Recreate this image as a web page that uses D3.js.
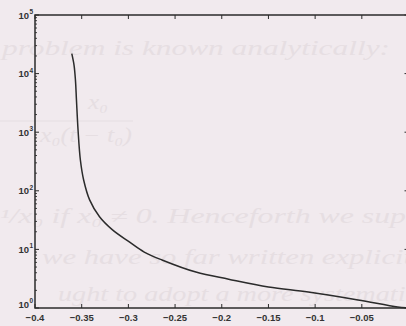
<!DOCTYPE html>
<html>
<head>
<meta charset="utf-8">
<script src="https://cdn.jsdelivr.net/npm/d3@7/dist/d3.min.js"></script>
<style>
  html, body { margin: 0; padding: 0; background: #f1eaee; }
  svg { display: block; }
</style>
</head>
<body>
<script>
// Solution x(t) of the blow-up problem, plotted on a log scale
const tValues = [-0.3606, -0.3582, -0.3567, -0.3556, -0.3539, -0.3514, -0.3479,
                 -0.3415, -0.3309, -0.317, -0.299, -0.283, -0.264, -0.2277, -0.1926,
                 -0.15, -0.1074, -0.054, -0.0117, 0];
const xValues = [21900, 14000, 7800, 3550, 1090, 335, 153,
                 70, 36, 21.5, 13.4, 9.0, 6.6, 4.1, 3.1,
                 2.28, 1.87, 1.37, 1.04, 1.0];
const xTicks = [-0.4, -0.35, -0.3, -0.25, -0.2, -0.15, -0.1, -0.05, 0];
const xTickLabels = ["\u22120.4", "\u22120.35", "\u22120.3", "\u22120.25", "\u22120.2",
                     "\u22120.15", "\u22120.1", "\u22120.05", "0"];
const yExponents = [0, 1, 2, 3, 4, 5];

// faint text printed on the page behind the figure
const pageLines = [
  {text: "problem is known analytically:", x: 2, y: 55, len: 388},
  {text: "x\u2080", x: 88, y: 109, len: 20},
  {text: "x\u2080(t \u2212 t\u2080)", x: 40, y: 142, len: 92},
  {text: "\u00B9/x\u2080 if x\u2080 \u2260 0.  Henceforth we sup", x: 0, y: 223, len: 406},
  {text: "we have so far written explicit", x: 42, y: 264, len: 370},
  {text: "ught to adopt a more systematic", x: 58, y: 301, len: 360}
];

const W = 406, H = 326;
const mLeft = 35, mRight = 408.5, mTop = 15, mBottom = 308;

const svg = d3.select("body").append("svg").attr("width", W).attr("height", H);
svg.append("rect").attr("width", W).attr("height", H).attr("fill", "#f1eaee");

const page = svg.append("g").attr("font-family", "Liberation Serif, DejaVu Serif, serif")
  .attr("font-style", "italic").attr("font-size", 20).attr("fill", "#e6dee2");
page.selectAll("text").data(pageLines).join("text")
  .attr("x", d => d.x).attr("y", d => d.y)
  .attr("textLength", d => d.len).attr("lengthAdjust", "spacingAndGlyphs")
  .text(d => d.text);
page.append("line").attr("x1", 0).attr("x2", 133).attr("y1", 121).attr("y2", 121)
  .attr("stroke", "#e6dee2").attr("stroke-width", 1.2);

const x = d3.scaleLinear().domain([-0.4, 0]).range([mLeft, mRight]);
const y = d3.scaleLog().domain([1, 1e5]).range([mBottom, mTop]);

const ink = "#2b2b2b";
const g = svg.append("g");

// frame
g.append("rect").attr("x", mLeft).attr("y", mTop)
  .attr("width", mRight - mLeft).attr("height", mBottom - mTop)
  .attr("fill", "none").attr("stroke", ink).attr("stroke-width", 1.5);

// x ticks, bottom and top, pointing inward
xTicks.forEach(v => {
  const px = x(v);
  g.append("line").attr("x1", px).attr("x2", px).attr("y1", mBottom).attr("y2", mBottom - 4)
    .attr("stroke", ink).attr("stroke-width", 1);
  g.append("line").attr("x1", px).attr("x2", px).attr("y1", mTop).attr("y2", mTop + 4)
    .attr("stroke", ink).attr("stroke-width", 1);
});

// y ticks: majors at decades, minors at 2..9
const minor = [];
yExponents.slice(0, -1).forEach(e => { for (let k = 2; k <= 9; k++) minor.push(k * Math.pow(10, e)); });
minor.forEach(v => {
  const py = y(v);
  g.append("line").attr("x1", mLeft).attr("x2", mLeft + 2).attr("y1", py).attr("y2", py)
    .attr("stroke", ink).attr("stroke-width", 0.9);
  g.append("line").attr("x1", mRight).attr("x2", mRight - 2).attr("y1", py).attr("y2", py)
    .attr("stroke", ink).attr("stroke-width", 0.9);
});
yExponents.forEach(e => {
  const py = y(Math.pow(10, e));
  g.append("line").attr("x1", mLeft).attr("x2", mLeft + 4).attr("y1", py).attr("y2", py)
    .attr("stroke", ink).attr("stroke-width", 1);
  g.append("line").attr("x1", mRight).attr("x2", mRight - 4).attr("y1", py).attr("y2", py)
    .attr("stroke", ink).attr("stroke-width", 1);
});

// tick labels (the one at t = 0 falls outside the window)
const lab = svg.append("g").attr("font-family", "Liberation Sans, Arial, sans-serif")
  .attr("font-weight", "bold").attr("fill", "#333");
const shownX = xTicks.map((v, i) => ({v, label: xTickLabels[i]})).filter(d => x(d.v) < W - 10);
lab.selectAll("text.xl").data(shownX).join("text").attr("class", "xl")
  .attr("x", d => x(d.v)).attr("y", 320.5).attr("text-anchor", "middle")
  .attr("font-size", 9.5).text(d => d.label);

yExponents.forEach(e => {
  const py = y(Math.pow(10, e));
  const base = e === 0 ? py - 0.5 : py + 3.5;
  lab.append("text").attr("x", 29).attr("y", base)
    .attr("text-anchor", "end").attr("font-size", 9.5).text("10");
  lab.append("text").attr("x", 29.5).attr("y", base - 4.5).attr("font-size", 6.5)
    .text(e);
});

// curve
const lineXY = d3.line().x(d => x(d[0])).y(d => y(d[1])).curve(d3.curveCatmullRom.alpha(0.5));
svg.append("path").datum(tValues.map((t, i) => [t, xValues[i]]))
  .attr("d", lineXY).attr("fill", "none").attr("stroke", ink).attr("stroke-width", 1.5);
</script>
</body>
</html>
